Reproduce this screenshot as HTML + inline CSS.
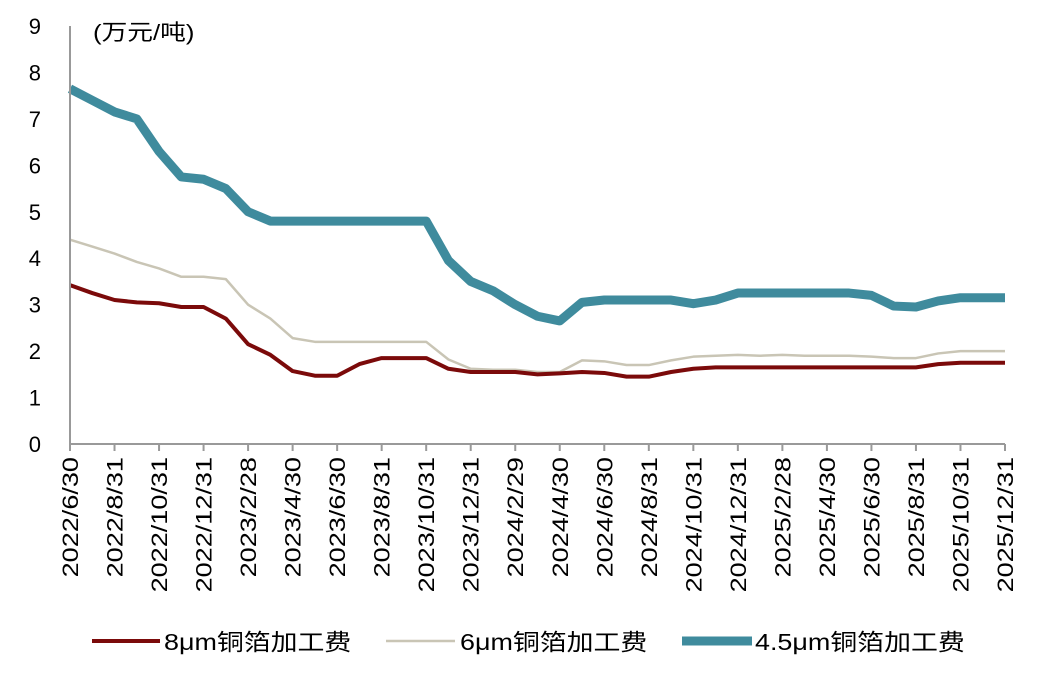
<!DOCTYPE html>
<html><head><meta charset="utf-8"><style>
body{margin:0;background:#fff;}
svg text{font-family:"Liberation Sans","Noto Sans CJK SC",sans-serif;fill:#000;}
</style></head><body>
<svg id="chart" width="1060" height="669" xmlns="http://www.w3.org/2000/svg">
<g id="grid"></g><g id="series"></g><g id="axes"></g>
<text transform="translate(93,40) scale(1.17,1)" font-size="22">(万元/吨)</text>
<g>
<line x1="92" y1="641" x2="160" y2="641" stroke="#7B0A0A" stroke-width="4"/>
<text transform="translate(164,650) scale(1.17,1)" font-size="23">8μm铜箔加工费</text>
<line x1="386" y1="641" x2="455" y2="641" stroke="#C9C5B5" stroke-width="2.5"/>
<text transform="translate(460,650) scale(1.17,1)" font-size="23">6μm铜箔加工费</text>
<line x1="682" y1="641" x2="752" y2="641" stroke="#3F8B9D" stroke-width="9"/>
<text transform="translate(755,650) scale(1.17,1)" font-size="23">4.5μm铜箔加工费</text>
</g>
</svg>
<script>
const tickLabels=["2022/6/30","2022/8/31","2022/10/31","2022/12/31","2023/2/28","2023/4/30","2023/6/30","2023/8/31","2023/10/31","2023/12/31","2024/2/29","2024/4/30","2024/6/30","2024/8/31","2024/10/31","2024/12/31","2025/2/28","2025/4/30","2025/6/30","2025/8/31","2025/10/31","2025/12/31"];
const yTicks=[0,1,2,3,4,5,6,7,8,9];
const s8=[3.42,3.25,3.1,3.05,3.03,2.95,2.95,2.7,2.15,1.92,1.57,1.47,1.47,1.72,1.85,1.85,1.85,1.62,1.55,1.55,1.55,1.5,1.52,1.55,1.53,1.45,1.45,1.55,1.62,1.65,1.65,1.65,1.65,1.65,1.65,1.65,1.65,1.65,1.65,1.72,1.75,1.75,1.75];
const s6=[4.4,4.25,4.1,3.92,3.78,3.6,3.6,3.55,3.0,2.7,2.28,2.2,2.2,2.2,2.2,2.2,2.2,1.82,1.62,1.6,1.6,1.55,1.55,1.8,1.78,1.7,1.7,1.8,1.88,1.9,1.92,1.9,1.92,1.9,1.9,1.9,1.88,1.85,1.85,1.95,2.0,2.0,2.0];
const s45=[7.65,7.4,7.15,7.0,6.3,5.75,5.7,5.5,5.0,4.8,4.8,4.8,4.8,4.8,4.8,4.8,4.8,3.95,3.5,3.3,3.0,2.75,2.65,3.05,3.1,3.1,3.1,3.1,3.02,3.1,3.25,3.25,3.25,3.25,3.25,3.25,3.2,2.97,2.95,3.08,3.15,3.15,3.15];
const NS="http://www.w3.org/2000/svg";
const X0=70,X1=1005,Y0=444,Y9=26;
const n=s8.length;
const xs=i=>X0+(X1-X0)*i/(n-1);
const ys=v=>Y0-(Y0-Y9)*v/9;
const axes=document.getElementById('axes'),series=document.getElementById('series');
function mk(tag,attrs,parent){const e=document.createElementNS(NS,tag);for(const k in attrs)e.setAttribute(k,attrs[k]);parent.appendChild(e);return e;}
let a=mk('line',{x1:X0,y1:Y9,x2:X0,y2:Y0,stroke:'#999','stroke-width':2},axes);


a=mk('line',{x1:X0-1,y1:Y0,x2:X1,y2:Y0,stroke:'#999','stroke-width':2},axes);


yTicks.forEach(v=>{const t=mk('text',{x:41,y:ys(v)+8,'font-size':22,'text-anchor':'end'},axes);t.textContent=v;

});
tickLabels.forEach((l,j)=>{const x=xs(j*2);
const tk=mk('line',{x1:x,y1:Y0,x2:x,y2:Y0+7,stroke:'#999','stroke-width':2},axes);


const t=mk('text',{x:0,y:0,'font-size':22,'text-anchor':'end',transform:`translate(${x+8},${Y0+13}) rotate(-90) scale(1.23,1)`},axes);t.textContent=l;

});
function line(d,c,w,name){const p=mk('polyline',{points:d.map((v,i)=>xs(i)+','+ys(v)).join(' '),fill:'none',stroke:c,'stroke-width':w,'stroke-linejoin':'round'},series);

}
line(s6,'#C9C5B5',2.5,'line-6um');
line(s8,'#7B0A0A',4,'line-8um');
line(s45,'#3F8B9D',9,'line-4-5um');
</script>
</body></html>
